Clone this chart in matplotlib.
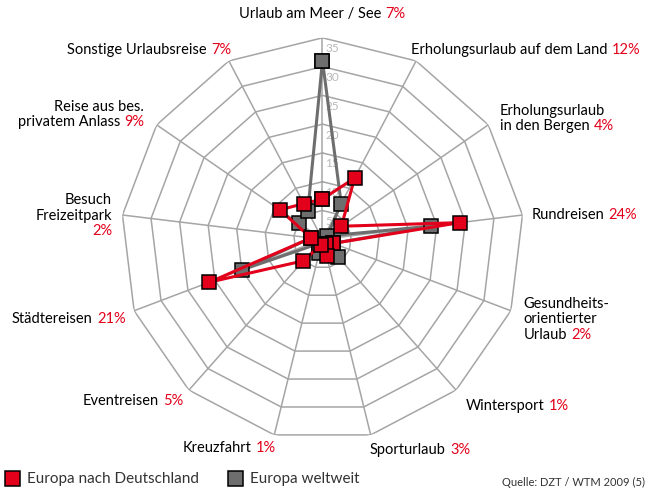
import numpy as np
import matplotlib.pyplot as plt
from matplotlib.offsetbox import TextArea, HPacker, VPacker, AnnotationBbox

plt.rcParams['font.family'] = ['Lato', 'DejaVu Sans']

categories = ["Urlaub am Meer / See", "Erholungsurlaub auf dem Land",
              "Erholungsurlaub\nin den Bergen", "Rundreisen",
              "Gesundheits-\norientierter\nUrlaub", "Wintersport", "Sporturlaub",
              "Kreuzfahrt", "Eventreisen", "Städtereisen", "Besuch\nFreizeitpark\n",
              "Reise aus bes.\nprivatem Anlass", "Sonstige Urlaubsreise"]
deutschland = [7, 12, 4, 24, 2, 1, 3, 1, 5, 21, 2, 9, 7]
weltweit = [31, 7, 1, 19, 2, 4, 2, 2.5, 1, 15, 2, 5, 5.5]
pct_labels = ["7%", "12%", "4%", "24%", "2%", "1%", "3%", "1%", "5%", "21%", "2%", "9%", "7%"]
rings = [5, 10, 15, 20, 25, 30, 35]

# label layout (angle in deg, radius in data units, side)
lab_theta = [0, 25, 55.7, 83.3, 111.7, 139.3, 167.3, 192.6, 220.7, 248, 276.4, 305, 334.2]
lab_r = [39.2, 36.3, 37.3, 36.6, 37.6, 38.2, 37.5, 37.1, 37.1, 36.9, 36.8, 37.8, 36.5]
lab_side = ["c", "l", "l", "l", "l", "l", "l", "r", "r", "r", "r", "r", "r"]

red = "#E2001A"
grey = "#6E6E6E"
gridc = "#A5A5A5"

fig = plt.figure(figsize=(6.52, 4.93), dpi=100)
ax = fig.add_axes([0.1856, 0.1059, 0.618, 0.8174], projection='polar')
ax.set_theta_zero_location('N')
ax.set_theta_direction(-1)
ax.set_ylim(0, 35)
ax.axis('off')

n = len(categories)
theta = np.arange(n) * 2 * np.pi / n
tc = np.append(theta, theta[0])

for r in rings:
    ax.plot(tc, [r] * (n + 1), color=gridc, lw=1.1, zorder=1)
for t in theta:
    ax.plot([t, t], [0, 35], color=gridc, lw=1.1, zorder=1)
for r in rings:
    ax.annotate(str(r), (0, r), xytext=(3, -11), textcoords='offset pixels',
                ha='left', va='center', fontsize=8.5, color="#B8B8B8", zorder=2)

ax.plot(tc, weltweit + weltweit[:1], color=grey, lw=2.2, marker='s', ms=10,
        mfc=grey, mec='black', mew=1.1, zorder=3, clip_on=False)
ax.plot(tc, deutschland + deutschland[:1], color=red, lw=2.2, marker='s', ms=10,
        mfc=red, mec='black', mew=1.1, zorder=4, clip_on=False)

fs = 10.5
for i in range(n):
    name = categories[i]
    own_line = name.endswith("\n")
    lines = name.rstrip("\n").split("\n")
    rows = [TextArea(l, textprops=dict(color='black', fontsize=fs)) for l in lines[:-1]]
    last = TextArea(lines[-1], textprops=dict(color='black', fontsize=fs))
    pct = TextArea(pct_labels[i], textprops=dict(color=red, fontsize=fs))
    if own_line:
        rows += [last, pct]
    else:
        rows.append(HPacker(children=[last, pct], sep=3, pad=0, align='baseline'))
    side = lab_side[i]
    align = {"c": "center", "l": "left", "r": "right"}[side]
    box = VPacker(children=rows, sep=1, pad=0, align=align)
    bx = {"c": 0.5, "l": 0.0, "r": 1.0}[side]
    ab = AnnotationBbox(box, (np.deg2rad(lab_theta[i]), lab_r[i]), xycoords='data',
                        frameon=False, box_alignment=(bx, 0.5), annotation_clip=False)
    ax.add_artist(ab)

# legend
fig.patches.append(plt.Rectangle((5 / 652, 1 - 486 / 493), 15 / 652, 15 / 493,
                                 transform=fig.transFigure, fc=red, ec='black', lw=1.1))
fig.patches.append(plt.Rectangle((228 / 652, 1 - 486 / 493), 15 / 652, 15 / 493,
                                 transform=fig.transFigure, fc=grey, ec='black', lw=1.1))
fig.text(27 / 652, 1 - 479 / 493, "Europa nach Deutschland", fontsize=11,
         color="#333333", va='center', ha='left')
fig.text(250 / 652, 1 - 479 / 493, "Europa weltweit", fontsize=11,
         color="#333333", va='center', ha='left')
fig.text(645 / 652, 1 - 482 / 493, "Quelle: DZT / WTM 2009 (5)", fontsize=8,
         color="#333333", va='center', ha='right')

fig.savefig("out.png", dpi=100)
